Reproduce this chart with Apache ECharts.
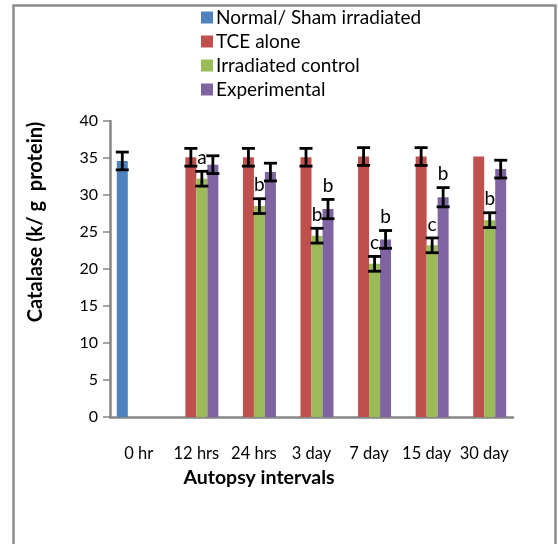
<!DOCTYPE html>
<html>
<head>
<meta charset="utf-8">
<script src="https://cdn.jsdelivr.net/npm/echarts@6/dist/echarts.min.js"></script>
<style>
html, body { margin: 0; padding: 0; background: #fff; }
#container { width: 558px; height: 544px; }
</style>
</head>
<body>
<div id="container"></div>
<script>
// data
var categories = ['0 hr', '12 hrs', '24 hrs', '3 day', '7 day', '15 day', '30 day'];
var seriesNames = ['Normal/ Sham irradiated', 'TCE alone', 'Irradiated control', 'Experimental'];
var normalVals = [34.6, null, null, null, null, null, null];
var tceVals = [null, 35.1, 35.1, 35.1, 35.2, 35.2, 35.2];
var irrVals = [null, 32.2, 28.5, 24.5, 20.7, 23.2, 26.6];
var expVals = [null, 34.1, 33.1, 28.1, 24.0, 29.7, 33.5];
var normalErr = [1.2, null, null, null, null, null, null];
var tceErr = [null, 1.2, 1.2, 1.2, 1.2, 1.2, null];
var irrErr = [null, 1.0, 1.0, 1.0, 1.0, 1.0, 1.0];
var expErr = [null, 1.2, 1.2, 1.3, 1.2, 1.3, 1.2];
var irrLetters = ['', 'a', 'b', 'b', 'c', 'c', 'b'];
var expLetters = ['', '', '', 'b', 'b', 'b', ''];
var yMin = 0, yMax = 40, yStep = 5;

var colors = ['#4F81BD', '#C0504D', '#9BBB59', '#8064A2'];
var catGap = 0.236;

var dom = document.getElementById('container');
var myChart = echarts.init(dom);

function barSeries(k, vals) {
	return {
		name: seriesNames[k],
		type: 'bar',
		data: vals,
		barGap: 0,
		barCategoryGap: (catGap * 100) + '%',
		itemStyle: { color: colors[k] }
	};
}

// I-beam error bars + significance letters, placed on the same slot as the bar
function errorSeries(slot, vals, errs, letters) {
	var data = [];
	vals.forEach(function(v, i) {
		if (v != null) data.push([i, v, errs[i] == null ? 0 : errs[i]]);
	});
	return {
		type: 'custom',
		silent: true,
		z: 10,
		data: data,
		renderItem: function(params, api) {
			var i = api.value(0), v = api.value(1), e = api.value(2);
			var band = api.size([1, 0])[0];
			var bw = band * (1 - catGap) / 4;
			var x = api.coord([i, 0])[0] + (slot - 1.5) * bw;
			var top = api.coord([i, v + e])[1];
			var bot = api.coord([i, v - e])[1];
			var st = { stroke: '#000', lineWidth: 2.8 };
			var children = [];
			if (e > 0) {
				children.push(
					{ type: 'line', shape: { x1: x, y1: top, x2: x, y2: bot }, style: st },
					{ type: 'line', shape: { x1: x - 6.5, y1: top, x2: x + 6.5, y2: top }, style: st },
					{ type: 'line', shape: { x1: x - 6.5, y1: bot, x2: x + 6.5, y2: bot }, style: st }
				);
			}
			var letter = letters ? letters[i] : '';
			if (letter) {
				children.push({
					type: 'text',
					style: {
						text: letter, x: x, y: top - 4,
						align: 'center', verticalAlign: 'bottom',
						fontFamily: 'Lato', fontSize: 19, fill: '#000'
					}
				});
			}
			return { type: 'group', children: children };
		}
	};
}

var option = {
	animation: false,
	textStyle: { fontFamily: 'Lato' },
	legend: {
		data: seriesNames,
		orient: 'vertical',
		left: 196,
		top: 3,
		icon: 'rect',
		itemWidth: 12,
		itemHeight: 12,
		itemGap: 5,
		textStyle: { fontSize: 19, lineHeight: 18, color: '#000', fontFamily: 'Lato', padding: [0, 0, 0, -2] }
	},
	grid: { left: 110, right: 45, top: 121, bottom: 127, containLabel: false },
	xAxis: {
		type: 'category',
		data: categories,
		axisLine: { lineStyle: { color: '#868686', width: 2.5 } },
		axisTick: { show: false },
		axisLabel: { interval: 0, color: '#000', fontSize: 16.5, margin: 28, fontFamily: 'Lato' }
	},
	yAxis: {
		type: 'value',
		min: yMin,
		max: yMax,
		interval: yStep,
		splitLine: { show: false },
		axisLine: { show: true, lineStyle: { color: '#868686', width: 2.5 } },
		axisTick: { show: true, length: 7, lineStyle: { color: '#868686', width: 1.5 } },
		axisLabel: { color: '#000', fontSize: 16, margin: 12, fontFamily: 'Lato' }
	},
	graphic: [
		{
			type: 'rect',
			shape: { x: 13.5, y: 5.5, width: 542, height: 560 },
			style: { fill: 'none', stroke: '#8c8c8c', lineWidth: 2.5 }
		},
		{
			type: 'text',
			x: 36, y: 222,
			rotation: Math.PI / 2,
			style: {
				text: 'Catalase (k/ g  protein)',
				align: 'center', verticalAlign: 'middle',
				fontFamily: 'Lato', fontWeight: 'bold', fontSize: 20, fill: '#000'
			}
		},
		{
			type: 'text',
			x: 259, y: 478,
			style: {
				text: 'Autopsy intervals',
				align: 'center', verticalAlign: 'middle',
				fontFamily: 'Lato', fontWeight: 'bold', fontSize: 19.5, fill: '#000'
			}
		}
	],
	series: [
		barSeries(0, normalVals),
		barSeries(1, tceVals),
		barSeries(2, irrVals),
		barSeries(3, expVals),
		errorSeries(0, normalVals, normalErr, null),
		errorSeries(1, tceVals, tceErr, null),
		errorSeries(2, irrVals, irrErr, irrLetters),
		errorSeries(3, expVals, expErr, expLetters)
	]
};
myChart.setOption(option, true);
</script>
</body>
</html>
